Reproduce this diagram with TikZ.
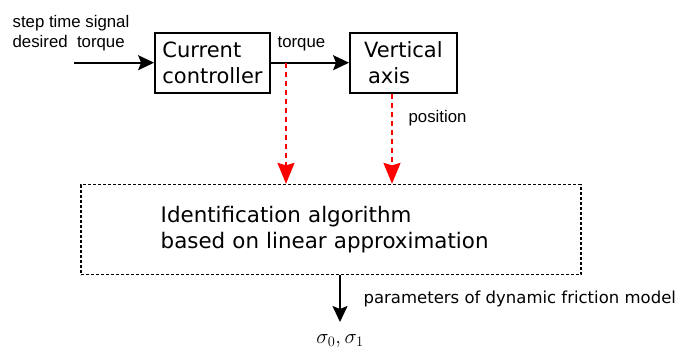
\documentclass[tikz,border=0pt]{standalone}
\usepackage{fontspec}
\setmainfont{DejaVu Sans}
\newfontfamily\labelfont{Liberation Sans}
\usetikzlibrary{arrows.meta}

\begin{document}
\begin{tikzpicture}[x=1pt,y=-1pt,line width=1.8pt,
  every node/.style={inner sep=0pt},
  block/.style={draw,align=left,minimum height=60pt,font=\fontsize{21}{26}\selectfont},
  lbl/.style={anchor=base west,font=\labelfont\fontsize{16.8}{20}\selectfont},
  sig/.style={-{Stealth[length=16pt,width=15pt,inset=3pt]}},
  meas/.style={red,dash pattern=on 5pt off 4pt,-{Stealth[length=21pt,width=17pt,inset=2.5pt]}}]
  \useasboundingbox (0,0) rectangle (687,349);

  \node[block,minimum width=115pt] (n1) at (212.5,62.7) {Current\\controller};
  \node[block,minimum width=106.7pt] (n2) at (403.3,62.7) {Vertical\\\hspace*{4pt}axis};
  \node[draw,line width=1.5pt,dash pattern=on 3pt off 2pt,minimum width=500pt,minimum height=90pt,
    text width=340.6pt,inner xsep=79.7pt,align=left,font=\fontsize{21.4}{26}\selectfont]
    (n4) at (331,229.6) {Identification algorithm\\based on linear approximation};
  \node[anchor=north,inner ysep=12pt,font=\fontsize{21}{25}\selectfont] (n5) at (340,322) {$\sigma_0,\sigma_1$};

  \node[lbl] (t1) at (11.7,27) {step time signal};
  \node[lbl] (t2) at (11.7,47) {desired~~torque};
  \node[lbl] (t3) at (276.7,47) {torque};
  \node[lbl] (t4) at (407.7,122) {position};
  \node[lbl,font=\fontsize{16.5}{20}\selectfont] (t5) at (362.7,303.3) {parameters of dynamic friction model};

  \coordinate (c0) at (74,62.7);
  \coordinate (c1) at (286,62.7);
  \coordinate (c2) at (392,0);

  \path[sig]
    (c0) edge (n1)
    (n1) edge (n2)
    (n4.south -| n5) edge (n5);
  \path[meas]
    (c1) edge (c1 |- n4.north)
    (n2.south -| c2) edge (c2 |- n4.north);
\end{tikzpicture}
\end{document}
